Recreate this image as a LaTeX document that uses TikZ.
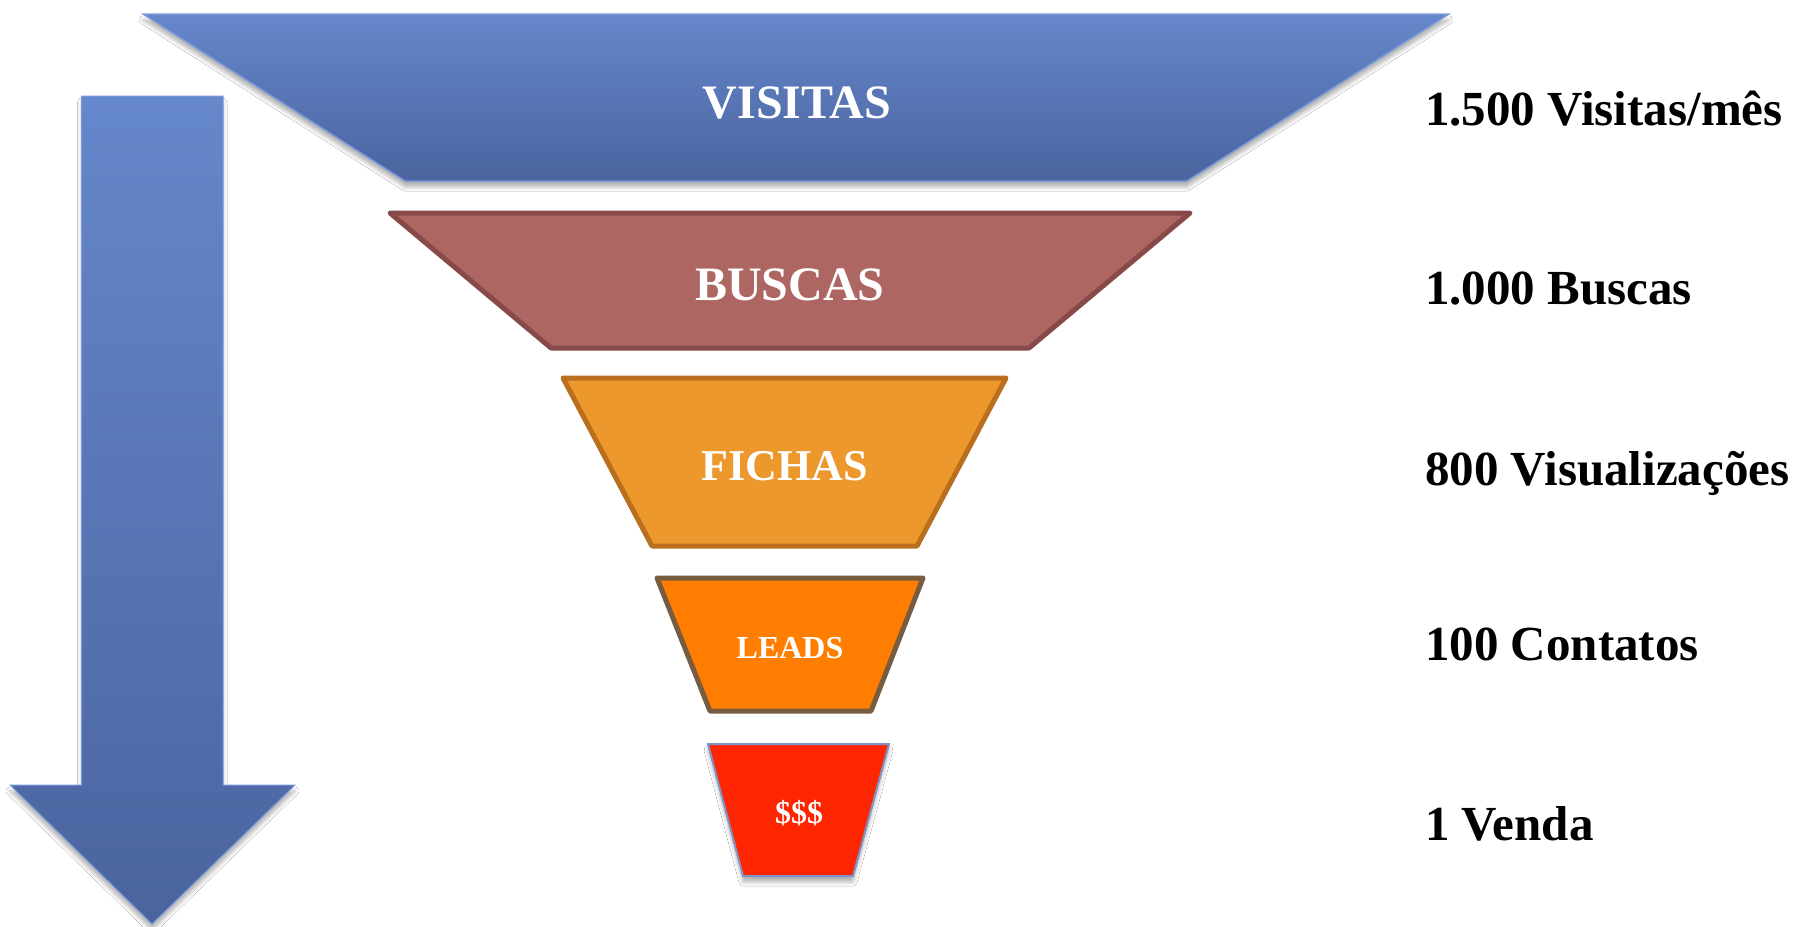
\documentclass[tikz,border=0pt]{standalone}
\usepackage{fontspec}
\setmainfont{Liberation Serif}
\usetikzlibrary{shadows.blur}

\definecolor{bgL}{HTML}{E6E6E6}
\definecolor{bgR}{HTML}{EBEBEB}
\definecolor{blueTop}{HTML}{6587CB}
\definecolor{blueBot}{HTML}{4B649F}
\definecolor{blueEdge}{HTML}{7A9ADA}
\definecolor{buscasFill}{HTML}{AD6662}
\definecolor{buscasEdge}{HTML}{884A49}
\definecolor{fichasFill}{HTML}{EC982D}
\definecolor{fichasEdge}{HTML}{B96F1E}
\definecolor{leadsFill}{HTML}{FF7D00}
\definecolor{leadsEdge}{HTML}{785C40}
\definecolor{vendaFill}{HTML}{FF2500}
\definecolor{vendaEdge}{HTML}{7D94C8}

% soft white-to-grey background, darker at both sides
\pgfdeclarehorizontalshading{bgshade}{100bp}{color(0bp)=(bgL); color(24bp)=(white); color(76bp)=(white); color(100bp)=(bgR)}

\begin{document}
\begin{tikzpicture}[x=1pt,y=-1pt,
  softshadow/.style={blur shadow={shadow xshift=0pt, shadow yshift=-6pt, shadow blur radius=4pt, shadow opacity=30}},
  funnel/.style={line width=5pt, line join=round},
  stage/.style={text=white, inner sep=0pt, anchor=base},
  figure/.style={text=black, inner sep=0pt, anchor=base west, font=\fontsize{49}{49}\selectfont\bfseries}]

\useasboundingbox (0,0) rectangle (1798,926);
\shade[shading=bgshade] (0,0) rectangle (1798,926);

% downward arrow on the left
\shade[top color=blueTop, bottom color=blueBot, draw=blueEdge, line width=1pt, softshadow]
  (81.5,96) -- (223,96) -- (223,785) -- (295,785) -- (152,924) -- (10,785) -- (81.5,785) -- cycle;

% funnel levels
\shade[top color=blueTop, bottom color=blueBot, draw=blueEdge, line width=1.5pt, softshadow]
  (143,14) -- (1449,14) -- (1187,181) -- (405,181) -- cycle;
\filldraw[funnel, fill=buscasFill, draw=buscasEdge]
  (390,213) -- (1190,213) -- (1029,348) -- (551,348) -- cycle;
\filldraw[funnel, fill=fichasFill, draw=fichasEdge]
  (563,378) -- (1006,378) -- (917,546) -- (652,546) -- cycle;
\filldraw[funnel, fill=leadsFill, draw=leadsEdge]
  (657,578) -- (923,578) -- (871,711) -- (710,711) -- cycle;
\filldraw[fill=vendaFill, draw=vendaEdge, line width=2pt, softshadow]
  (708,744) -- (889,744) -- (853,876) -- (743,876) -- cycle;

% stage names
\node[stage, font=\fontsize{48}{48}\selectfont\bfseries] (visitas) at (797,118) {VISITAS};
\node[stage, font=\fontsize{48}{48}\selectfont\bfseries] (buscas) at (790,300) {BUSCAS};
\node[stage, font=\fontsize{44}{44}\selectfont\bfseries] (fichas) at (785,480) {FICHAS};
\node[stage, font=\fontsize{32}{32}\selectfont\bfseries] (leads) at (790,658) {LEADS};
\node[stage, font=\fontsize{32}{32}\selectfont\bfseries] (venda) at (799,823) {\$\$\$};

% figures per stage
\node[figure] (nvisitas) at (1425,125) {1.500 Visitas/mês};
\node[figure] (nbuscas) at (1425,304) {1.000 Buscas};
\node[figure] (nfichas) at (1425,485) {800 Visualizações};
\node[figure] (nleads) at (1425,660) {100 Contatos};
\node[figure] (nvenda) at (1425,840) {1 Venda};

\end{tikzpicture}
\end{document}
